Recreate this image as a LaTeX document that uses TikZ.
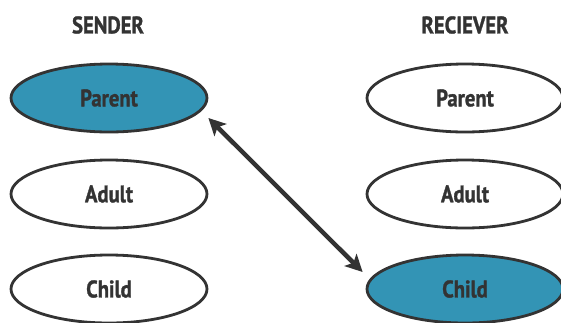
\documentclass[tikz,border=0pt]{standalone}
\usepackage{fontspec}
\setmainfont{PT Sans}[FakeStretch=0.86,BoldFeatures={FakeBold=1.2}]
\usetikzlibrary{shapes.geometric,arrows.meta}
\definecolor{ink}{HTML}{333333}
\definecolor{teal}{HTML}{3394B5}
\begin{document}
\begin{tikzpicture}[x=1pt,y=-1pt,
  state/.style={ellipse,draw=ink,line width=2.8pt,minimum width=196pt,minimum height=68pt,inner sep=0pt,
    font=\fontsize{24}{28}\selectfont\bfseries,text=ink,fill=white},
  hot/.style={state,fill=teal},
  head/.style={font=\fontsize{24}{28}\selectfont\bfseries,text=ink},
  bigtip/.tip={Stealth[length=17pt,width=17pt,inset=4pt]},
  link/.style={draw=ink,line width=4.5pt,{bigtip}-{bigtip}}]
\useasboundingbox (0,0) rectangle (561,322);
\node[head] (sh) at (108,25) {SENDER};
\node[head] (rh) at (465,25) {RECIEVER};
\node[hot] (sp) at (109,98) {Parent};
\node[state] (sa) at (109,194) {Adult};
\node[state] (sc) at (109,289) {Child};
\node[state] (rp) at (465,98) {Parent};
\node[state] (ra) at (465,194) {Adult};
\node[hot] (rc) at (465,289) {Child};
\draw[link] ([yshift=-20pt]sp.east) -- ([xshift=-3pt,yshift=17pt]rc.west);
\end{tikzpicture}
\end{document}
